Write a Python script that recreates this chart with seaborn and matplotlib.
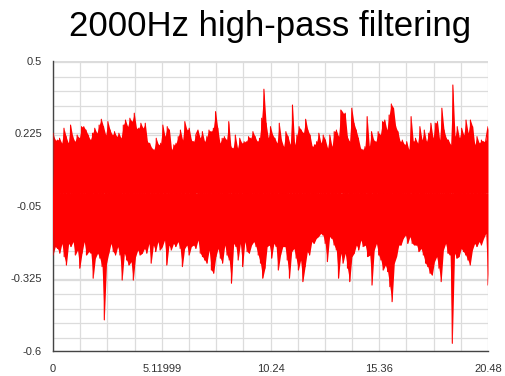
import numpy as np
import pandas as pd
import matplotlib
matplotlib.use("Agg")
import matplotlib.pyplot as plt
from matplotlib.ticker import MultipleLocator, FixedLocator
import seaborn as sns

# Filtered signal: positive peaks and negative troughs of the waveform, in time order
upper_peaks = [
    0.226, 0.200, 0.200, 0.207, 0.188, 0.245, 0.213, 0.188, 0.257, 0.213,
    0.194, 0.219, 0.207, 0.251, 0.251, 0.238, 0.219, 0.200, 0.226, 0.245,
    0.226, 0.257, 0.279, 0.251, 0.219, 0.270, 0.238, 0.219, 0.232, 0.213,
    0.226, 0.207, 0.257, 0.276, 0.251, 0.283, 0.270, 0.302, 0.245, 0.245,
    0.264, 0.245, 0.264, 0.194, 0.188, 0.169, 0.163, 0.207, 0.182, 0.188,
    0.257, 0.213, 0.251, 0.238, 0.163, 0.182, 0.188, 0.213, 0.238, 0.200,
    0.270, 0.238, 0.245, 0.200, 0.194, 0.219, 0.238,
    0.207, 0.232, 0.194, 0.213, 0.238, 0.232, 0.245, 0.308, 0.245, 0.188,
    0.207, 0.213, 0.200, 0.270, 0.175, 0.169, 0.219, 0.169, 0.207, 0.188,
    0.194, 0.194, 0.213, 0.207, 0.232, 0.213, 0.194, 0.207, 0.283, 0.393,
    0.264, 0.207, 0.251, 0.219, 0.207, 0.188, 0.264, 0.200, 0.175, 0.232,
    0.213, 0.182, 0.333, 0.182, 0.219, 0.251, 0.238, 0.226, 0.279, 0.238,
    0.219, 0.175, 0.182, 0.194, 0.226, 0.188, 0.219, 0.200, 0.169, 0.219,
    0.175, 0.232, 0.238, 0.213, 0.314, 0.302,
    0.302, 0.213, 0.194, 0.321, 0.264, 0.238, 0.207, 0.169, 0.163, 0.175,
    0.289, 0.175, 0.232, 0.200, 0.194, 0.232, 0.219, 0.270, 0.276, 0.238,
    0.295, 0.337, 0.321, 0.251, 0.232, 0.194, 0.200, 0.182, 0.194, 0.163,
    0.289, 0.194, 0.207, 0.188, 0.251, 0.200, 0.238, 0.194, 0.226, 0.264,
    0.207, 0.264, 0.270, 0.200, 0.321, 0.238, 0.207, 0.200, 0.182, 0.409,
    0.213, 0.251, 0.207, 0.245, 0.219, 0.276, 0.226, 0.276, 0.251, 0.182,
    0.213, 0.188, 0.200, 0.194, 0.200, 0.251,
]
lower_troughs = [
    -0.236, -0.204, -0.211, -0.229, -0.192, -0.242, -0.274, -0.192, -0.204, -0.185,
    -0.236, -0.217, -0.286, -0.229, -0.185, -0.236, -0.223, -0.229, -0.324, -0.248,
    -0.229, -0.248, -0.280, -0.482, -0.267, -0.229, -0.192, -0.223, -0.236, -0.204,
    -0.236, -0.331, -0.229, -0.255, -0.274, -0.261, -0.331, -0.242, -0.217, -0.236,
    -0.229, -0.211, -0.229, -0.192, -0.267, -0.198, -0.223, -0.185, -0.217, -0.204,
    -0.179, -0.274, -0.198, -0.217, -0.192, -0.204, -0.185, -0.211, -0.280, -0.211,
    -0.198, -0.236, -0.204, -0.198,
    -0.211, -0.179, -0.229, -0.242, -0.255, -0.267, -0.217, -0.293, -0.305, -0.242,
    -0.211, -0.248, -0.267, -0.198, -0.236, -0.255, -0.343, -0.192, -0.204, -0.255,
    -0.192, -0.280, -0.185, -0.223, -0.229, -0.198, -0.185, -0.204, -0.236, -0.267,
    -0.324, -0.286, -0.204, -0.198, -0.248, -0.192, -0.204, -0.293, -0.236, -0.204,
    -0.204, -0.255, -0.324, -0.223, -0.211, -0.248, -0.293, -0.255, -0.337, -0.280,
    -0.223, -0.236, -0.185, -0.192, -0.173, -0.166, -0.154, -0.160, -0.192, -0.261,
    -0.166, -0.173, -0.198, -0.217, -0.324, -0.229,
    -0.267, -0.229, -0.286, -0.337, -0.242, -0.229, -0.198, -0.217, -0.179, -0.204,
    -0.198, -0.242, -0.236, -0.350, -0.217, -0.192, -0.236, -0.255, -0.293, -0.274,
    -0.299, -0.356, -0.413, -0.267, -0.242, -0.198, -0.198, -0.173, -0.160, -0.192,
    -0.166, -0.192, -0.198, -0.198, -0.223, -0.211, -0.236, -0.267, -0.280, -0.305,
    -0.312, -0.261, -0.242, -0.286, -0.337, -0.217, -0.192, -0.229, -0.236, -0.571,
    -0.229, -0.248, -0.242, -0.211, -0.223, -0.236, -0.255, -0.274, -0.217, -0.192,
    -0.204, -0.185, -0.198, -0.173, -0.154, -0.350,
]

t_end = 20.48
x_ticks = [0, 5.11999, 10.24, 15.36, 20.48]
x_tick_labels = ["0", "5.11999", "10.24", "15.36", "20.48"]
y_ticks = [0.5, 0.225, -0.05, -0.325, -0.6]
y_tick_labels = ["0.5", "0.225", "-0.05", "-0.325", "-0.6"]
title = "2000Hz high-pass filtering"

red = "#ff0000"

# Merge peaks and troughs into one oscillating trace
t_up = np.linspace(0, t_end, len(upper_peaks))
t_lo = np.linspace(0, t_end, len(lower_troughs))
signal = pd.DataFrame({
    "t": np.concatenate([t_up, t_lo]),
    "amp": np.concatenate([upper_peaks, lower_troughs]),
}).sort_values("t", kind="mergesort").reset_index(drop=True)

sns.set_style("white")
plt.rcParams["font.family"] = ["Liberation Sans", "DejaVu Sans"]

fig = plt.figure(figsize=(5.06, 3.76), dpi=100)
ax = fig.add_axes([53 / 506, 1 - 351 / 376, 435 / 506, 290 / 376])

# Dense oscillation reads as a solid band between the peak and trough envelopes
ax.fill_between(t_up, upper_peaks, 0, color=red, linewidth=0, zorder=2)
ax.fill_between(t_lo, lower_troughs, 0, color=red, linewidth=0, zorder=2)
sns.lineplot(data=signal, x="t", y="amp", ax=ax, color=red,
             linewidth=0.8, estimator=None, sort=False, zorder=3)

ax.set_xlim(0, t_end)
ax.set_ylim(-0.6, 0.5)
ax.xaxis.set_major_locator(FixedLocator(x_ticks))
ax.set_xticklabels(x_tick_labels)
ax.xaxis.set_minor_locator(MultipleLocator(1.28))
ax.yaxis.set_major_locator(FixedLocator(y_ticks))
ax.set_yticklabels(y_tick_labels)
ax.yaxis.set_minor_locator(MultipleLocator(0.055))

ax.grid(True, which="both", color="#dcdcdc", linewidth=0.9, zorder=0)
ax.set_axisbelow(True)
ax.set_xlabel("")
ax.set_ylabel("")

for side in ("top", "right"):
    ax.spines[side].set_visible(False)
for side in ("left", "bottom"):
    ax.spines[side].set_color("#444444")
    ax.spines[side].set_linewidth(1.0)

ax.tick_params(axis="both", which="major", direction="out", length=5,
               width=0.9, color="#444444", labelsize=8, labelcolor="#333333", pad=3)
ax.tick_params(axis="both", which="minor", direction="out", length=3,
               width=0.9, color="#444444")
ax.tick_params(axis="x", which="major", pad=4)

ax.set_title(title, fontsize=25, color="black", pad=18)

fig.savefig("out.png", dpi=100)
